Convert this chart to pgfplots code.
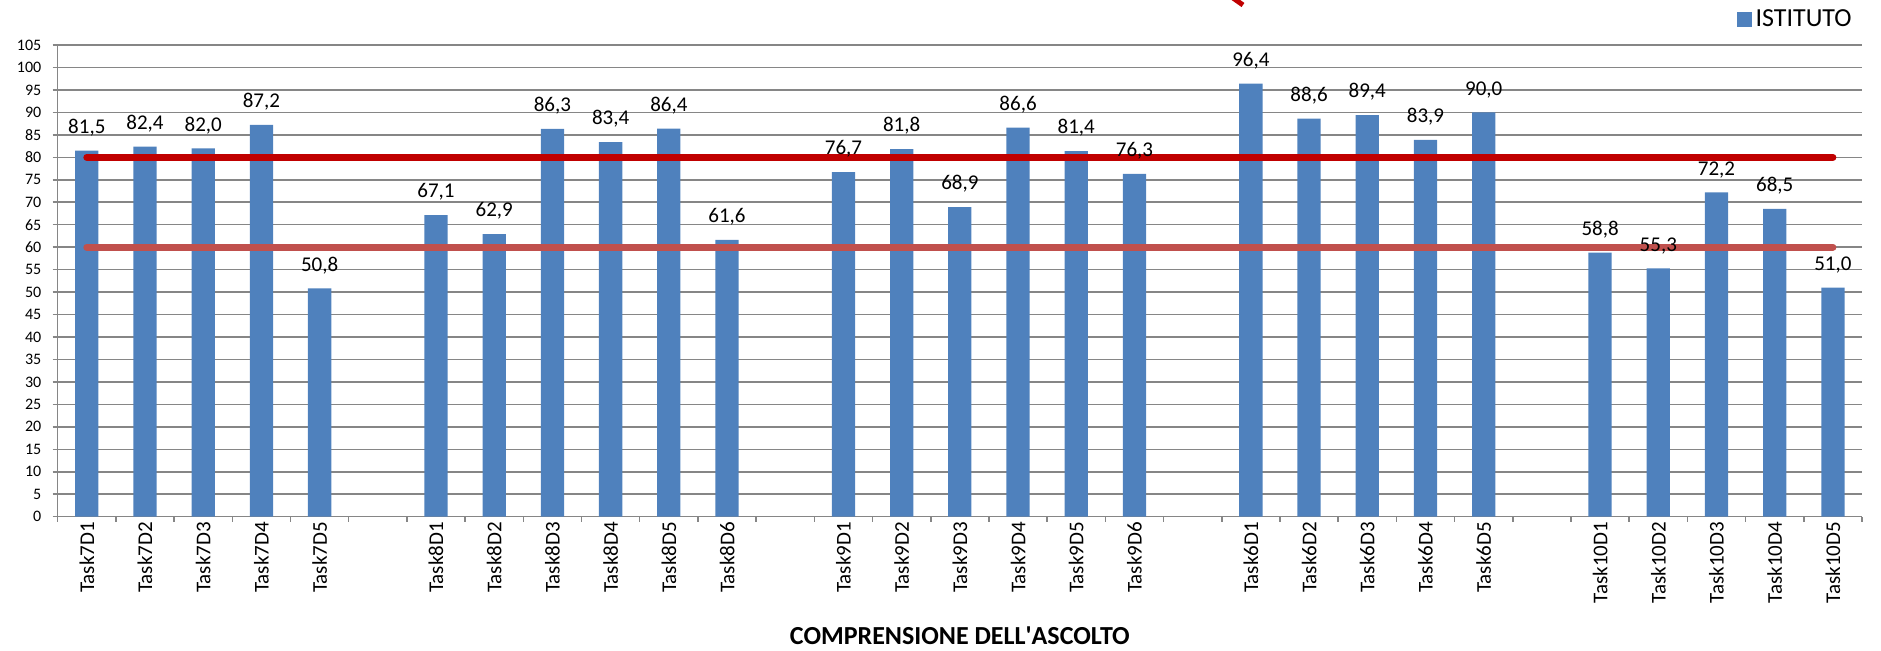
\documentclass[border=0pt]{standalone}
\usepackage{fontspec}
\setmainfont{Carlito}
\usepackage{pgfplots}
\pgfplotsset{compat=1.18}
\definecolor{barblue}{HTML}{4F81BD}
\definecolor{gridgray}{HTML}{868686}
\definecolor{darkred}{HTML}{C00000}
\definecolor{softred}{HTML}{C0504D}

\begin{document}
\begin{tikzpicture}
\begin{axis}[
  at={(0,0)}, anchor=south west,
  scale only axis, width=902.15pt, height=235.85pt,
  xmin=-0.5, xmax=30.5, ymin=0, ymax=105,
  axis lines*=left,
  axis line style={gridgray, line width=0.75pt},
  ytick={0,5,...,105},
  ymajorgrids, grid style={gridgray, line width=0.75pt},
  tick align=outside, major tick length=2.5pt, minor tick length=2.5pt,
  tick style={gridgray, line width=0.75pt},
  xtick={0,...,30},
  xticklabels={Task7D1,Task7D2,Task7D3,Task7D4,Task7D5,,
    Task8D1,Task8D2,Task8D3,Task8D4,Task8D5,Task8D6,,
    Task9D1,Task9D2,Task9D3,Task9D4,Task9D5,Task9D6,,
    Task6D1,Task6D2,Task6D3,Task6D4,Task6D5,,
    Task10D1,Task10D2,Task10D3,Task10D4,Task10D5},
  major x tick style={draw=none},
  minor xtick={-0.5,0.5,...,30.5},
  xticklabel style={rotate=90, anchor=east, inner sep=0pt, font=\fontsize{10.5}{12}\selectfont},
  yticklabel style={inner sep=0pt, xshift=-5.5pt, font=\fontsize{8}{9.6}\selectfont},
  /pgf/number format/assume math mode=true,
  xlabel={COMPRENSIONE DELL\textquotesingle ASCOLTO},
  xlabel style={at={(axis description cs:0.5,0)}, anchor=base, yshift=-64pt,
    inner sep=0pt, font=\fontsize{13}{15}\selectfont\bfseries},
  legend style={draw=none, fill=none, at={(1,1)}, anchor=east,
    xshift=-3pt, yshift=12.75pt, inner sep=0pt,
    font=\fontsize{13}{15}\selectfont},
]
\addplot[ybar, bar width=0.4, fill=barblue, draw=none,
  legend image code/.code={\fill[barblue] (0pt,-3.75pt) rectangle (7.5pt,3.75pt);},
  nodes near coords,
  every node near coord/.append style={black, yshift=3.75pt,
    font=\fontsize{10.5}{12}\selectfont,
    /pgf/number format/.cd, fixed, fixed zerofill, precision=1, use comma,
    assume math mode=true}]
coordinates {
  (0,81.5) (1,82.4) (2,82.0) (3,87.2) (4,50.8)
  (6,67.1) (7,62.9) (8,86.3) (9,83.4) (10,86.4) (11,61.6)
  (13,76.7) (14,81.8) (15,68.9) (16,86.6) (17,81.4) (18,76.3)
  (20,96.4) (21,88.6) (22,89.4) (23,83.9) (24,90.0)
  (26,58.8) (27,55.3) (28,72.2) (29,68.5) (30,51.0)
};
\addlegendentry{ISTITUTO}
% target lines
\addplot[forget plot, darkred, line width=3.5pt, line cap=round] coordinates {(0,80) (30,80)};
\addplot[forget plot, softred, line width=3.5pt, line cap=round] coordinates {(0,60) (30,60)};
\end{axis}
% stray bit of an arrow cut off at the top
\draw[darkred, line width=2.5pt] (587.65pt,259.35pt) -- (592.65pt,255.85pt);
\pgfresetboundingbox
\useasboundingbox (-28.85pt,-67.15pt) rectangle (911.65pt,258.35pt);
\end{tikzpicture}
\end{document}
